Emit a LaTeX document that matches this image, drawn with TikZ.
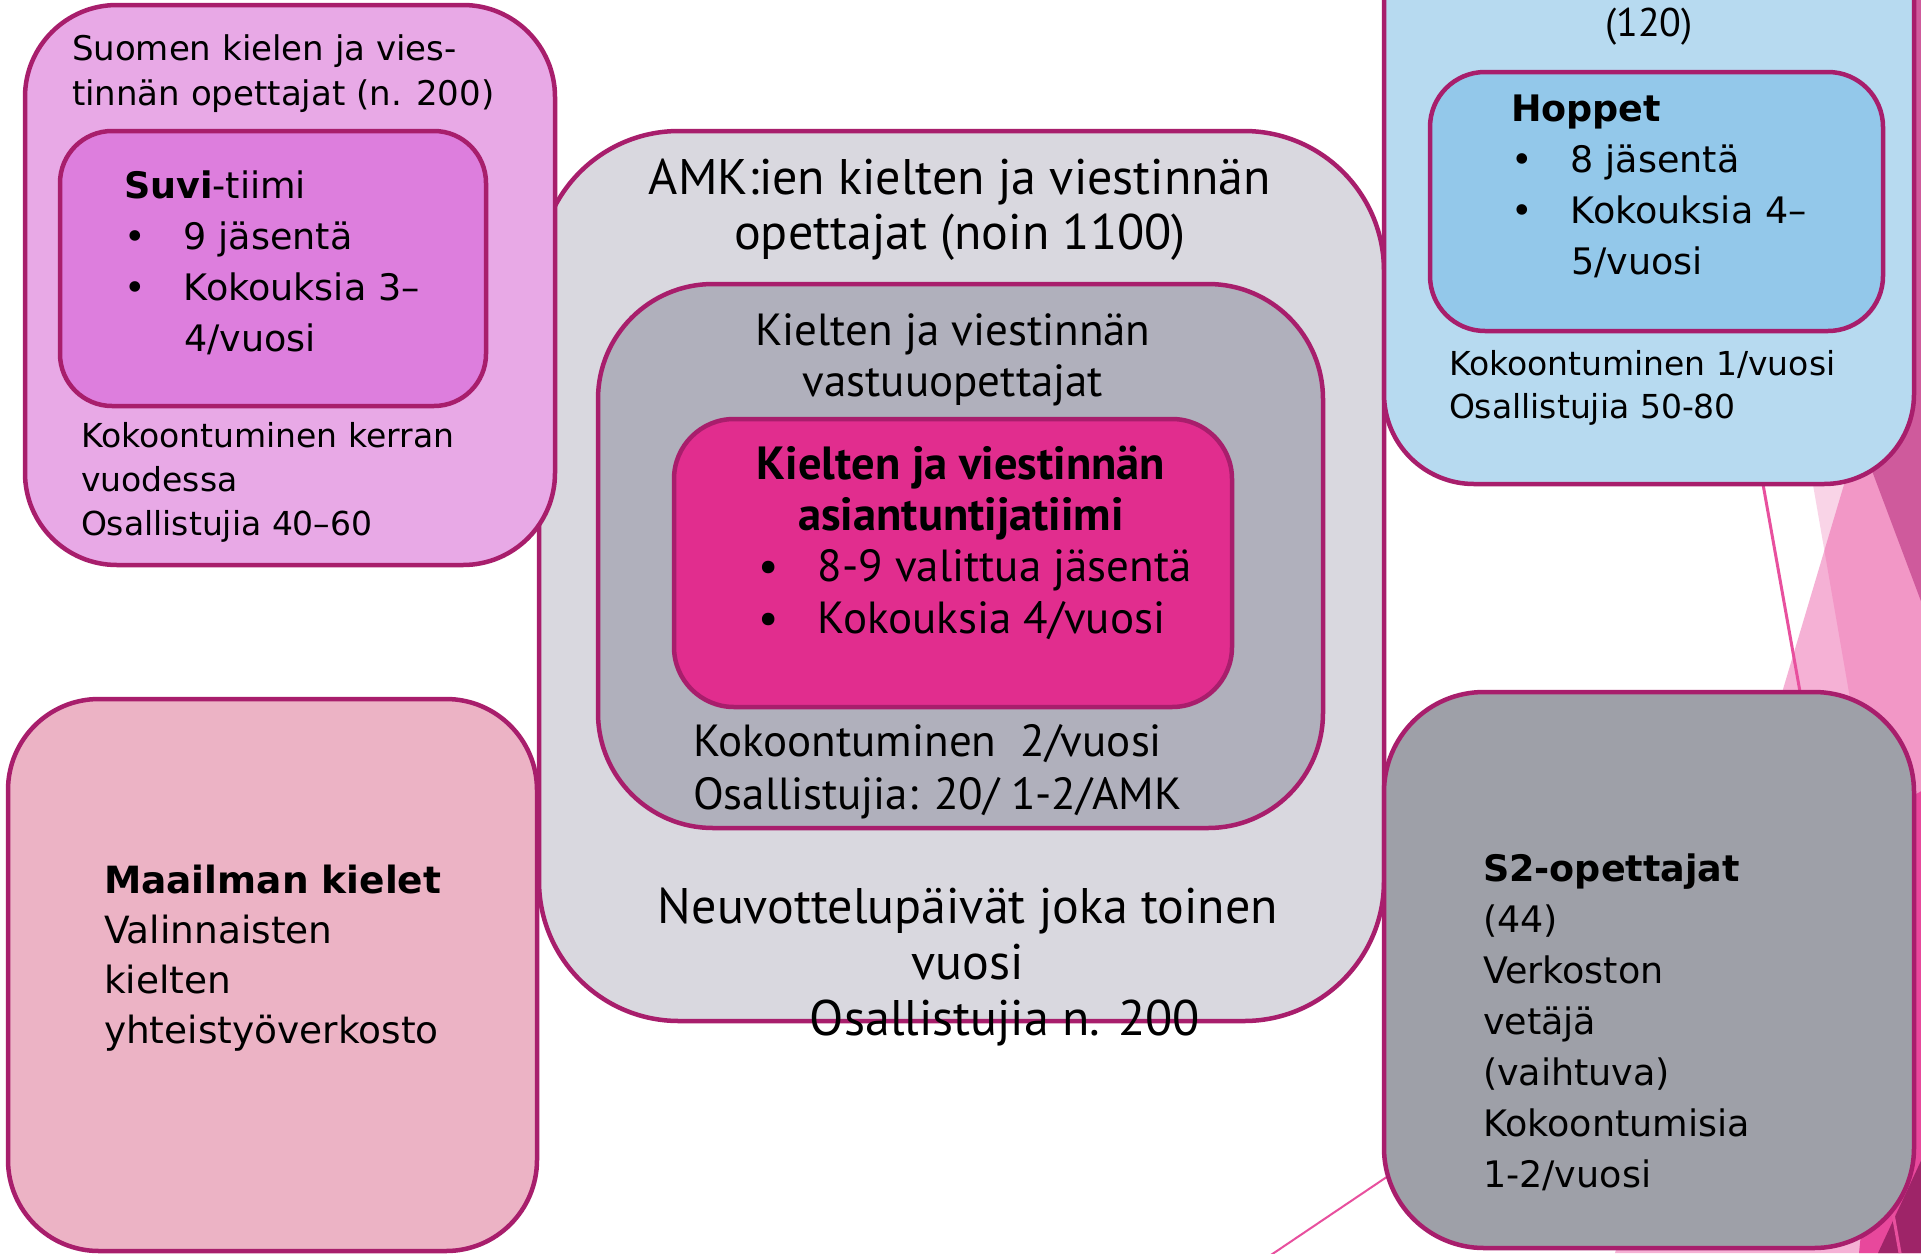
\documentclass[tikz,border=0pt]{standalone}
\usepackage{fontspec}
\setmainfont{DejaVu Sans}
\newfontfamily\cfont{PT Sans}
\definecolor{bordercol}{HTML}{A81E6C}
\definecolor{suomenfill}{HTML}{E8A9E6}
\definecolor{suvifill}{HTML}{DD7EDD}
\definecolor{amkfill}{HTML}{D9D8DF}
\definecolor{vastuufill}{HTML}{B0B0BC}
\definecolor{asiantfill}{HTML}{E12D8E}
\definecolor{bluefill}{HTML}{B7DAF0}
\definecolor{hoppetfill}{HTML}{93C8EA}
\definecolor{maailmafill}{HTML}{ECB3C5}
\definecolor{stwofill}{HTML}{9EA0A8}
\definecolor{decopink}{HTML}{E83C96}
\definecolor{decorose}{HTML}{CF5A9C}
\definecolor{decobright}{HTML}{E8489C}
\definecolor{decodark}{HTML}{9E2468}
\definecolor{decoline}{HTML}{E8509E}
\newcommand\mybul{\makebox[60pt][l]{•}}
\newcommand\mycbul{\makebox[60pt][l]{•}}
\begin{document}
\begin{tikzpicture}[x=1pt,y=-1pt,
  box/.style={draw=bordercol, line width=4.5pt, inner sep=0pt, outer sep=0pt, anchor=north west},
  lbl/.style={inner sep=0pt, outer sep=0pt, text=black, align=left, anchor=base west},
  clbl/.style={inner sep=0pt, outer sep=0pt, text=black, align=center, anchor=base}]
\useasboundingbox (0,0) rectangle (1921,1253);
\begin{scope}
\clip (0,0) rectangle (1921,1253);
\fill[white] (0,0) rectangle (1921,1253);
% background decoration
\fill[decopink, fill opacity=0.22] (1781,300) -- (1960,300) -- (1960,1253) -- (1946,1253) -- cycle;
\fill[decopink, fill opacity=0.4] (1899,300) -- (1960,300) -- (1960,1253) -- (1615,1253) -- cycle;
\fill[decorose] (1695,0) -- (1960,0) -- (1960,705) -- cycle;
\fill[decobright] (1905,800) -- (1960,770) -- (1960,1253) -- (1859,1253) -- cycle;
\fill[decodark] (1878,1253) -- (1960,1077) -- (1960,1253) -- cycle;
\coordinate (la1) at (1748,400);
\coordinate (la2) at (1900,1253);
\coordinate (lb1) at (1259,1263);
\coordinate (lb2) at (1501,1100);
\draw[decoline, line width=3pt] (la1) -- (la2);
\draw[decoline, line width=2pt] (lb1) -- (lb2);
% boxes
\node[box, fill=amkfill, minimum width=845pt, minimum height=890pt, rounded corners=140pt] (amk) at (539,131) {};
\node[box, fill=vastuufill, minimum width=725pt, minimum height=544pt, rounded corners=115pt] (vastuu) at (598,284) {};
\node[box, fill=asiantfill, minimum width=558pt, minimum height=288pt, rounded corners=60pt] (asiant) at (674,419) {};
\node[box, fill=suomenfill, minimum width=530pt, minimum height=560pt, rounded corners=92pt] (suomen) at (25,5) {};
\node[box, fill=suvifill, minimum width=426pt, minimum height=275pt, rounded corners=52pt] (suvi) at (60,131) {};
\node[box, fill=bluefill, minimum width=530pt, minimum height=584pt, rounded corners=90pt] (blue) at (1384,-100) {};
\node[box, fill=hoppetfill, minimum width=453pt, minimum height=259pt, rounded corners=55pt] (hoppet) at (1430,72) {};
\node[box, fill=maailmafill, minimum width=529pt, minimum height=552pt, rounded corners=91pt] (maailma) at (8,699) {};
\node[box, fill=stwofill, minimum width=530pt, minimum height=556pt, rounded corners=100pt] (stwo) at (1384,692) {};
% texts (anchor = baseline of the last line)
\node[lbl, font=\fontsize{34}{45}\selectfont] (suomenlbl) at (72,105) {Suomen kielen ja vies-\\tinnän opettajat (n. 200)};
\node[lbl, font=\fontsize{36.5}{51}\selectfont] (suvilbl) at (124,351) {\textbf{Suvi}-tiimi\\\mybul 9 jäsentä\\\mybul Kokouksia 3–\\\hspace*{60pt}4/vuosi};
\node[lbl, font=\fontsize{33}{44}\selectfont] (suomenmeet) at (81,535) {Kokoontuminen kerran\\vuodessa\\Osallistujia 40–60};
\node[clbl, font=\cfont\fontsize{50}{55}\selectfont] (amklbl) at (960,249) {AMK:ien kielten ja viestinnän\\opettajat (noin 1100)};
\node[clbl, font=\cfont\fontsize{45}{51}\selectfont] (vastuulbl) at (953,396) {Kielten ja viestinnän\\vastuuopettajat};
\node[clbl, font=\cfont\bfseries\fontsize{46.5}{51}\selectfont] (asiantlbl) at (961,530) {Kielten ja viestinnän\\asiantuntijatiimi};
\node[lbl, font=\cfont\fontsize{45}{52}\selectfont] (asiantbul) at (758,633) {\mycbul 8-9 valittua jäsentä\\\mycbul Kokouksia 4/vuosi};
\node[lbl, font=\cfont\fontsize{45}{53}\selectfont] (vastuumeet) at (693,809) {Kokoontuminen\ \ 2/vuosi\\Osallistujia: 20/ 1-2/AMK};
\node[clbl, font=\cfont\fontsize{50}{56}\selectfont] (neuvlbl) at (968,1035) {Neuvottelupäivät joka toinen\\vuosi\\\hspace*{74pt}Osallistujia n. 200};
\node[clbl, font=\cfont\fontsize{40}{48}\selectfont] (bluelbl) at (1649,36) {(120)};
\node[lbl, font=\fontsize{36.5}{51}\selectfont] (hoppetlbl) at (1511,274) {\textbf{Hoppet}\\\mybul 8 jäsentä\\\mybul Kokouksia 4–\\\hspace*{60pt}5/vuosi};
\node[lbl, font=\fontsize{33}{43}\selectfont] (bluemeet) at (1449,418) {Kokoontuminen 1/vuosi\\Osallistujia 50-80};
\node[lbl, font=\fontsize{37.5}{50}\selectfont] (maailmalbl) at (104,1043) {\textbf{Maailman kielet}\\Valinnaisten\\kielten\\yhteistyöverkosto};
\node[lbl, font=\fontsize{36.5}{51}\selectfont] (stwolbl) at (1483,1187) {\textbf{S2-opettajat}\\(44)\\Verkoston\\vetäjä\\(vaihtuva)\\Kokoontumisia\\1-2/vuosi};
\end{scope}
\end{tikzpicture}
\end{document}
